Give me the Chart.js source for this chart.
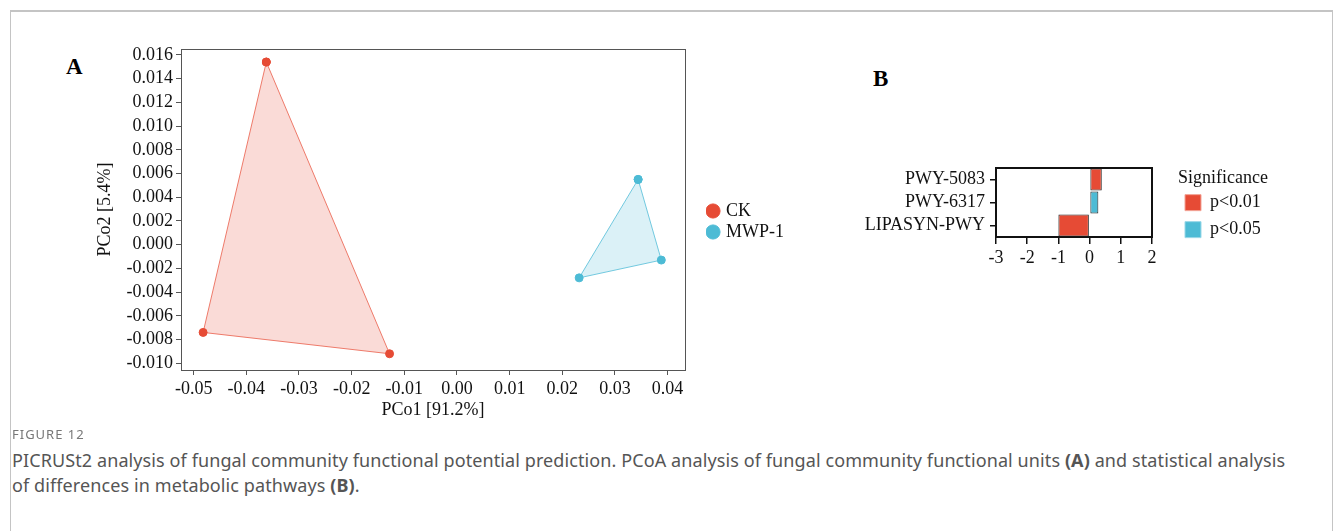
<!DOCTYPE html>
<html>
<head>
<meta charset="utf-8">
<title>Figure 12</title>
<script src="https://cdn.jsdelivr.net/npm/chart.js"></script>
<style>
  body { margin: 0; background: #fff; width: 1333px; height: 531px; overflow: hidden; position: relative; }
  .frame { position: absolute; left: 10px; top: 10px; width: 1321px; height: 600px; border: 1px solid #c4c4c4; border-top-width: 2px; }
  canvas { position: absolute; }
  #chartA { left: 0; top: 0; }
  #chartB { left: 640px; top: 140px; }
  .panel { position: absolute; font: bold 23px "Liberation Serif", serif; color: #000; }
  .cap-head { position: absolute; left: 12px; top: 425px; font: 13px "Noto Sans", sans-serif; color: #777; letter-spacing: 1px; }
  .cap { position: absolute; left: 12px; top: 448px; font: 18px/25px "Noto Sans", sans-serif; color: #555; letter-spacing: 0.1px; white-space: nowrap; }
</style>
</head>
<body>
<div class="frame"></div>
<div class="panel" style="left:66px; top:54px;">A</div>
<div class="panel" style="left:873px; top:66px;">B</div>
<canvas id="chartA" width="794" height="430"></canvas>
<canvas id="chartB" width="630" height="128"></canvas>
<div class="cap-head">FIGURE 12</div>
<div class="cap">PICRUSt2 analysis of fungal community functional potential prediction. PCoA analysis of fungal community functional units <b>(A)</b> and statistical analysis<br>of differences in metabolic pathways <b>(B)</b>.</div>
<script>
// panel A: PCoA sample coordinates
var groups = ['CK', 'MWP-1'];
var ckX = [-0.0362, -0.0128, -0.0482];
var ckY = [0.0154, -0.0092, -0.0074];
var mwpX = [0.0344, 0.0388, 0.0232];
var mwpY = [0.0055, -0.0013, -0.0028];
var xTicks = [-0.05, -0.04, -0.03, -0.02, -0.01, 0.00, 0.01, 0.02, 0.03, 0.04];
var yTicks = [-0.010, -0.008, -0.006, -0.004, -0.002, 0.000, 0.002, 0.004, 0.006, 0.008, 0.010, 0.012, 0.014, 0.016];

// panel B: pathway differences
var pathways = ['PWY-5083', 'PWY-6317', 'LIPASYN-PWY'];
var pathValues = [0.39, 0.28, -1.0];
var pathSig = ['p<0.01', 'p<0.05', 'p<0.01'];
var sigLevels = ['p<0.01', 'p<0.05'];
var bTicks = [-3, -2, -1, 0, 1, 2];

var red = '#E64B35';
var blue = '#4DBBD5';
var sigColors = { 'p<0.01': red, 'p<0.05': blue };
var sigEdges = { 'p<0.01': '#f3a396', 'p<0.05': '#9ad8e8' };
var serif = '"Liberation Serif", "Times New Roman", serif';

function polygon(xs, ys) {
  var pts = xs.map(function (x, i) { return { x: x, y: ys[i] }; });
  pts.push(pts[0]); // close the hull
  return pts;
}

var tickFont = { family: serif, size: 18 };

var chartA = new Chart(document.getElementById('chartA'), {
  type: 'scatter',
  data: {
    datasets: [{
      label: groups[0],
      data: polygon(ckX, ckY),
      showLine: true,
      fill: 'shape',
      backgroundColor: 'rgba(230, 75, 53, 0.2)',
      borderColor: 'rgba(236, 110, 92, 0.9)',
      borderWidth: 1,
      pointBackgroundColor: red,
      pointBorderColor: red,
      pointRadius: 4,
      tension: 0
    }, {
      label: groups[1],
      data: polygon(mwpX, mwpY),
      showLine: true,
      fill: 'shape',
      backgroundColor: 'rgba(77, 187, 213, 0.2)',
      borderColor: 'rgba(100, 195, 220, 0.9)',
      borderWidth: 1,
      pointBackgroundColor: blue,
      pointBorderColor: blue,
      pointRadius: 4,
      tension: 0
    }]
  },
  options: {
    responsive: false,
    animation: false,
    layout: { padding: 0 },
    plugins: {
      tooltip: { enabled: false },
      legend: {
        position: 'right',
        align: 'center',
        title: { display: true, text: '', font: { size: 10 }, padding: { top: 1, bottom: 0 } },
        labels: {
          usePointStyle: true,
          pointStyle: 'circle',
          boxWidth: 8,
          boxHeight: 10,
          padding: 3,
          color: '#111',
          font: tickFont
        }
      }
    },
    scales: {
      x: {
        type: 'linear',
        min: -0.0524,
        max: 0.0433,
        afterBuildTicks: function (s) { s.ticks = xTicks.map(function (v) { return { value: v }; }); },
        afterFit: function (s) { s.height = 60; },
        ticks: { color: '#111', font: tickFont, padding: 3, maxRotation: 0, autoSkip: false,
          callback: function (v) { return v.toFixed(2); } },
        grid: { drawOnChartArea: false, tickLength: 5, color: '#555' },
        border: { color: '#555', width: 1 },
        title: { display: true, text: 'PCo1 [91.2%]', color: '#111', font: tickFont, padding: { top: 0, bottom: 9 } }
      },
      y: {
        type: 'linear',
        min: -0.01057,
        max: 0.0165,
        afterBuildTicks: function (s) { s.ticks = yTicks.map(function (v) { return { value: v }; }); },
        afterFit: function (s) { s.width = 181; },
        ticks: { color: '#111', font: tickFont, padding: 3, autoSkip: false,
          callback: function (v) { return v.toFixed(3); } },
        grid: { drawOnChartArea: false, tickLength: 5, color: '#555' },
        border: { color: '#555', width: 1 },
        title: { display: true, text: 'PCo2 [5.4%]', color: '#111', font: tickFont, padding: { top: 94, bottom: 0 } }
      },
      xt: {
        type: 'linear',
        position: 'top',
        afterFit: function (s) { s.height = 49; },
        ticks: { display: false },
        grid: { display: false },
        border: { color: '#555', width: 1 }
      },
      yr: {
        type: 'linear',
        position: 'right',
        afterFit: function (s) { s.width = 21; },
        ticks: { display: false },
        grid: { display: false },
        border: { color: '#555', width: 1 }
      }
    }
  }
});

var chartB = new Chart(document.getElementById('chartB'), {
  type: 'bar',
  data: {
    labels: pathways,
    datasets: [{
      label: 'Difference',
      data: pathValues,
      backgroundColor: pathSig.map(function (s) { return sigColors[s]; }),
      borderColor: '#222',
      borderWidth: 1,
      borderSkipped: false,
      barPercentage: 0.95,
      categoryPercentage: 1
    }]
  },
  options: {
    indexAxis: 'y',
    responsive: false,
    animation: false,
    layout: { padding: 0 },
    plugins: {
      tooltip: { enabled: false },
      legend: {
        position: 'right',
        align: 'center',
        maxWidth: 94,
        title: { display: true, text: 'Significance', color: '#111',
          font: { family: serif, size: 18, lineHeight: 0.85 }, padding: { top: 9, bottom: 0 } },
        labels: {
          boxWidth: 16,
          boxHeight: 16,
          padding: 9,
          color: '#111',
          font: tickFont,
          generateLabels: function () {
            return sigLevels.map(function (s) {
              return { text: s, fillStyle: sigColors[s], strokeStyle: sigEdges[s], lineWidth: 1, hidden: false };
            });
          }
        }
      }
    },
    scales: {
      x: {
        min: bTicks[0],
        max: bTicks[bTicks.length - 1],
        afterBuildTicks: function (s) { s.ticks = bTicks.map(function (v) { return { value: v }; }); },
        afterFit: function (s) { s.height = 31; },
        ticks: { color: '#111', font: tickFont, padding: 3, maxRotation: 0 },
        grid: { drawOnChartArea: false, tickLength: 7, color: '#111', lineWidth: 1.5 },
        border: { color: '#111', width: 2 }
      },
      y: {
        afterFit: function (s) { s.width = 356; },
        ticks: { color: '#111', font: tickFont, padding: 5, autoSkip: false },
        grid: { drawOnChartArea: false, tickLength: 6, color: '#111', lineWidth: 1.5, offset: false },
        border: { color: '#111', width: 2 }
      },
      xt: {
        type: 'linear',
        position: 'top',
        afterFit: function (s) { s.height = 28; },
        ticks: { display: false },
        grid: { display: false },
        border: { color: '#111', width: 2 }
      },
      yr: {
        type: 'linear',
        position: 'right',
        afterFit: function (s) { s.width = 24; },
        ticks: { display: false },
        grid: { display: false },
        border: { color: '#111', width: 2 }
      }
    }
  }
});
</script>
</body>
</html>
